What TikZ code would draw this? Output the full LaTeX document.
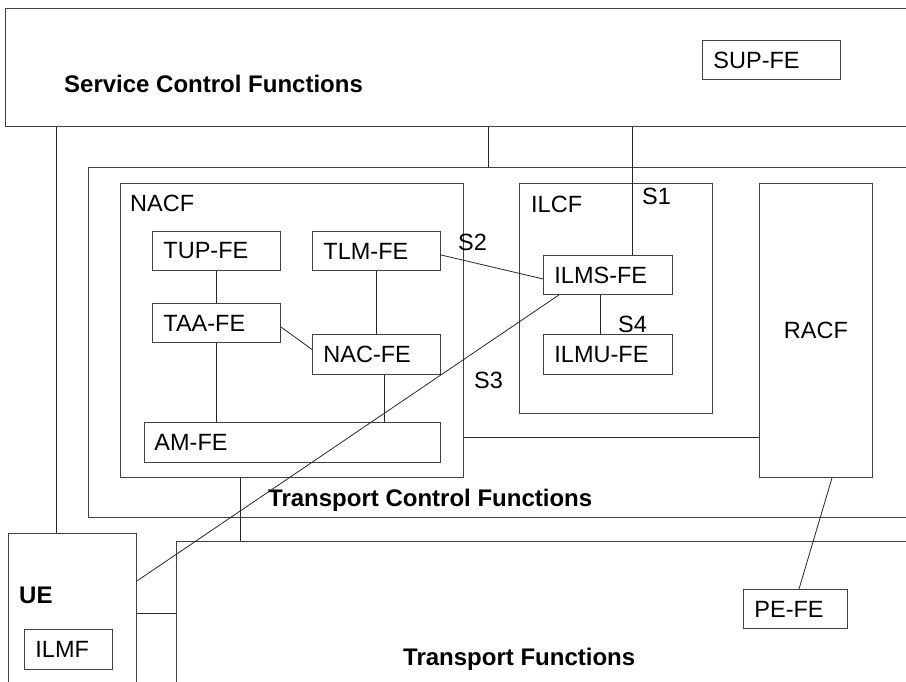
\documentclass[tikz,border=0pt]{standalone}
\usepackage{fontspec}
\setmainfont{Liberation Sans}
\newcommand{\fsnorm}{\fontsize{23.5}{28}\selectfont}
\newcommand{\fsbold}{\fontsize{24}{28}\selectfont\bfseries}

\begin{document}
\begin{tikzpicture}[
    x=1pt, y=-1pt,
    area/.style={draw=black!75, line width=0.9pt, anchor=north west, inner sep=0pt},
    fe/.style={draw=black!75, line width=0.9pt, anchor=north west, inner xsep=11pt,
               inner ysep=0pt, align=left, font=\fsnorm},
    conn/.style={draw=black!85, line width=0.8pt},
    lbl/.style={anchor=base west, inner sep=0pt, font=\fsnorm},
    title/.style={anchor=base west, inner sep=0pt, font=\fsbold}
]
\clip (0,0) rectangle (906,682);

% large functional areas (open to the right / bottom)
\node[area, minimum width=925pt, minimum height=118pt] (scf) at (5,8) {};
\node[area, minimum width=842pt, minimum height=350pt] (tcf) at (88,167) {};
\node[area, minimum width=128pt, minimum height=170pt] (ue)  at (8,533) {};
\node[area, minimum width=754pt, minimum height=160pt] (tf)  at (176,541) {};

\node[area, minimum width=343pt, minimum height=294pt] (nacf) at (120,183) {};
\node[area, minimum width=193pt, minimum height=230pt] (ilcf) at (519,183) {};
\node[area, minimum width=113pt, minimum height=294pt, font=\fsnorm] (racf) at (759,183) {RACF};

\node[title] (scftxt) at (64,93)  {Service Control Functions};
\node[title] (tcftxt) at (268,506) {Transport Control Functions};
\node[title] (tftxt)  at (403,665) {Transport Functions};
\node[title] (uetxt)  at (19,603)  {UE};
\node[lbl] (nacftxt) at (130,212) {NACF};
\node[lbl] (ilcftxt) at (531,213) {ILCF};

% functional entities
\node[fe, text width=116pt, minimum height=39pt] (supfe) at (702,40) {SUP-FE};
\node[fe, text width=106pt, minimum height=39pt] (tupfe) at (152,231) {TUP-FE};
\node[fe, text width=106pt, minimum height=39pt] (tlmfe) at (312,231) {TLM-FE};
\node[fe, text width=106pt, minimum height=39pt] (taafe) at (152,303) {TAA-FE};
\node[fe, text width=106pt, minimum height=40pt] (nacfe) at (312,334) {NAC-FE};
\node[fe, text width=276pt, minimum height=40pt, inner xsep=10pt] (amfe) at (144,422) {AM-FE};
\node[fe, text width=107pt, minimum height=39pt] (ilmsfe) at (543,255) {ILMS-FE};
\node[fe, text width=107pt, minimum height=40pt] (ilmufe) at (543,334) {ILMU-FE};
\node[fe, text width=66pt, minimum height=40pt] (ilmf) at (24,629) {ILMF};
\node[fe, text width=82pt, minimum height=39pt] (pefe) at (743,589) {PE-FE};

% reference points
\node[lbl] (s1) at (642,205) {S1};
\node[lbl] (s2) at (458,251) {S2};
\node[lbl] (s3) at (474,388) {S3};
\node[lbl] (s4) at (618,332) {S4};

% connections
\draw[conn] ([xshift=48pt]ue.north west) coordinate (u1) -- (u1 |- scf.south);
\draw[conn] ([xshift=400pt]tcf.north west) coordinate (t1) -- (t1 |- scf.south);
\draw[conn] ([xshift=89pt]ilmsfe.north west) coordinate (i1) -- (i1 |- scf.south);
\draw[conn] ([yshift=-4pt]tlmfe.east) -- ([yshift=-4pt]ilmsfe.west);
\draw[conn] ([xshift=57pt]ilmsfe.south west) coordinate (i2) -- (i2 |- ilmufe.north);
\draw[conn] ([yshift=-48pt]ue.north east) -- ([xshift=16pt]ilmsfe.south west);

\draw[conn] (tupfe) -- (taafe);
\draw[conn] (taafe.south) -- (taafe.south |- amfe.north);
\draw[conn] (tlmfe) -- (nacfe);
\draw[conn] ([yshift=-4pt]taafe.east) -- ([yshift=5pt]nacfe.west);
\draw[conn] ([xshift=72pt]nacfe.south west) coordinate (n1) -- (n1 |- amfe.north);

\draw[conn] ([yshift=-254pt]nacf.north east) coordinate (r1) -- (r1 -| racf.west);
\draw[conn] ([xshift=120pt]nacf.south west) coordinate (m1) -- (m1 |- tf.north);
\draw[conn] ([yshift=-80pt]ue.north east) coordinate (u2) -- (u2 -| tf.west);
\draw[conn] ([xshift=73pt]racf.south west) -- ([xshift=56pt]pefe.north west);

\end{tikzpicture}
\end{document}
